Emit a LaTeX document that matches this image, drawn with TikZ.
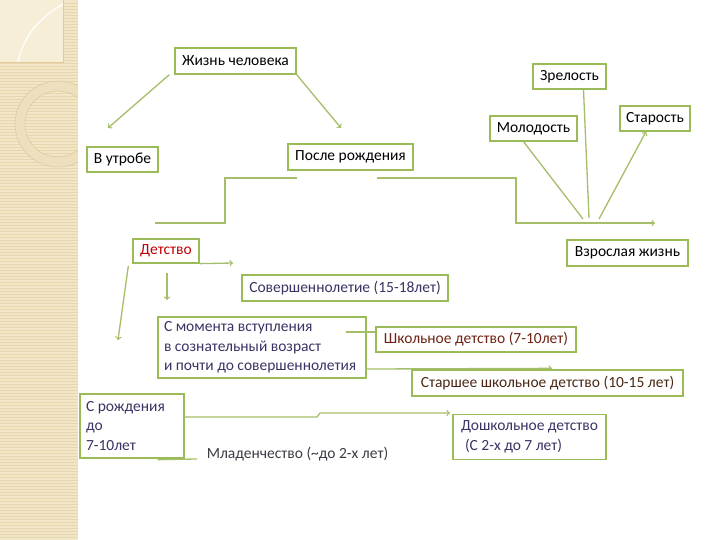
\documentclass[tikz,border=0pt]{standalone}
\usepackage{fontspec}
\setmainfont{Carlito}
\usetikzlibrary{shapes}
\definecolor{boxgreen}{RGB}{155,187,89}
\definecolor{linegreen}{RGB}{165,190,105}
\definecolor{stripbg}{RGB}{242,230,200}
\definecolor{stripline}{RGB}{232,214,172}
\definecolor{panelbg}{RGB}{246,238,214}
\definecolor{ringcol}{RGB}{238,224,190}
\definecolor{ringedge}{RGB}{222,202,158}
\definecolor{txtred}{RGB}{192,0,0}
\definecolor{txtindigo}{RGB}{60,50,100}
\definecolor{txtbrown}{RGB}{110,35,20}
\definecolor{txtdbrown}{RGB}{75,40,20}
\definecolor{txtgray}{RGB}{60,60,70}

\begin{document}
\begin{tikzpicture}[x=1pt,y=-1pt,
  box/.style={shape=rectangle,draw=boxgreen,fill=white,line width=1.3pt,inner xsep=6pt,inner ysep=2pt,font=\fontsize{15.5}{19.5}\selectfont},
  conn/.style={draw=linegreen,line width=1.3pt}]
\useasboundingbox (0,0) rectangle (720,540);
\fill[white] (0,0) rectangle (720,540);
% left strip
\fill[stripbg] (0,0) rectangle (78,540);
\foreach \k in {1,...,179} \draw[stripline,line width=0.5pt] (0,3*\k) -- (78,3*\k);
\fill[panelbg] (0,0) rectangle (63,62);
\draw[ringedge,line width=0.8pt] (0,62) -- (63,62) -- (63,0);
\draw[white,line width=1.2pt] (18,62) .. controls (25,30) and (45,15) .. (63,4);
\begin{scope}
\clip (0,0) rectangle (78,540);
\draw[ringcol,line width=9pt] (58,124) circle (38pt);
\draw[ringedge,line width=0.6pt] (58,124) circle (43pt);
\draw[ringedge,line width=0.6pt] (58,124) circle (33pt);
\end{scope}

\node[box,minimum width=121pt,minimum height=26pt] (0) at (235.5,61) {Жизнь человека};
\node[box,minimum width=71pt,minimum height=25pt] (1) at (122.5,159.5) {В утробе};
\node[box,minimum width=125pt,minimum height=26pt] (2) at (350.5,157) {После рождения};
\node[box,minimum width=73pt,minimum height=25pt] (3) at (569.5,76.5) {Зрелость};
\node[box,minimum width=87pt,minimum height=25pt] (4) at (533.5,128.5) {Молодость};
\node[box,minimum width=70pt,minimum height=25pt] (5) at (655,118.5) {Старость};
\node[box,minimum width=121pt,minimum height=26pt] (6) at (627.5,253) {Взрослая жизнь};
\node[box,minimum width=66pt,minimum height=24pt,text=txtred] (7) at (166,251) {Детство};
\node[box,minimum width=206pt,minimum height=26pt,text=txtindigo] (8) at (345,288) {Совершеннолетие (15-18лет)};
\node[box,text width=196pt,minimum height=61pt,align=flush left,text=txtindigo] (9) at (262,347.5) {С момента вступления\\в сознательный возраст\\и почти до совершеннолетия};
\node[box,minimum width=200pt,minimum height=25pt,text=txtbrown] (10) at (476,339.5) {Школьное детство (7-10лет)};
\node[box,minimum width=271pt,minimum height=26pt,text=txtdbrown] (11) at (547.5,383) {Старшее школьное детство (10-15 лет)};
\node[box,text width=92pt,minimum height=64pt,align=flush left,text=txtindigo] (12) at (132,426) {С рождения\\до\\7-10лет};
\node[box,inner xsep=8pt,text width=137pt,minimum height=45pt,align=flush left,text=txtindigo] (13) at (529.5,437) {Дошкольное детство\\\hspace*{4pt}(С 2-х до 7 лет)};
\node[inner sep=2pt,text=txtgray,font=\fontsize{15.5}{18.5}\selectfont] (14) at (297.5,454) {Младенчество (\textasciitilde до 2-х лет)};

\coordinate (a1) at (108,128);
\coordinate (a2) at (341,128);
\coordinate (s1) at (155,223);
\coordinate (s2) at (297,178);
\coordinate (s3) at (377,178);
\coordinate (s4) at (655,223);
\coordinate (j1) at (583,219);
\coordinate (j2) at (589,218);
\coordinate (j3) at (599,219);
\coordinate (d1) at (233,263);
\coordinate (d2) at (167,273);
\coordinate (d3) at (167,300);
\coordinate (d4) at (118,340);
\coordinate (m1) at (450,413);
\coordinate (m2) at (197,459);

\draw[conn,->] ([xshift=-5pt]0.south west) -- (a1);
\draw[conn,->] (0.south east) -- (a2);
\draw[conn] (s1) -- (225,223) -- (225,178) -- (s2);
\draw[conn,->] (s3) -- (516,178) -- (516,223) -- (s4);
\draw[conn] ([xshift=-10pt]4.south) -- (j1);
\draw[conn] ([xshift=14pt]3.south) -- (j2);
\draw[conn,->] (j3) -- ([xshift=-9pt]5.south);
\draw[conn,->] (7.south east) -- (d1);
\draw[conn,->] (d2) -- (d3);
\draw[conn,->] ([xshift=-4pt,yshift=-2pt]7.south west) -- (d4);
\draw[conn] ([xshift=-21pt,yshift=15.5pt]9.east) -- ([yshift=7.5pt]10.west);
\draw[conn,->] ([yshift=-21.5pt]9.east) -- ([xshift=4.5pt,yshift=1pt]11.north);
\draw[conn,->] ([yshift=9pt]12.east) -- (317,417) -- (320,413) -- (m1);
\draw[conn] ([xshift=-27pt,yshift=-1pt]12.south east) -- (m2);
\end{tikzpicture}
\end{document}
